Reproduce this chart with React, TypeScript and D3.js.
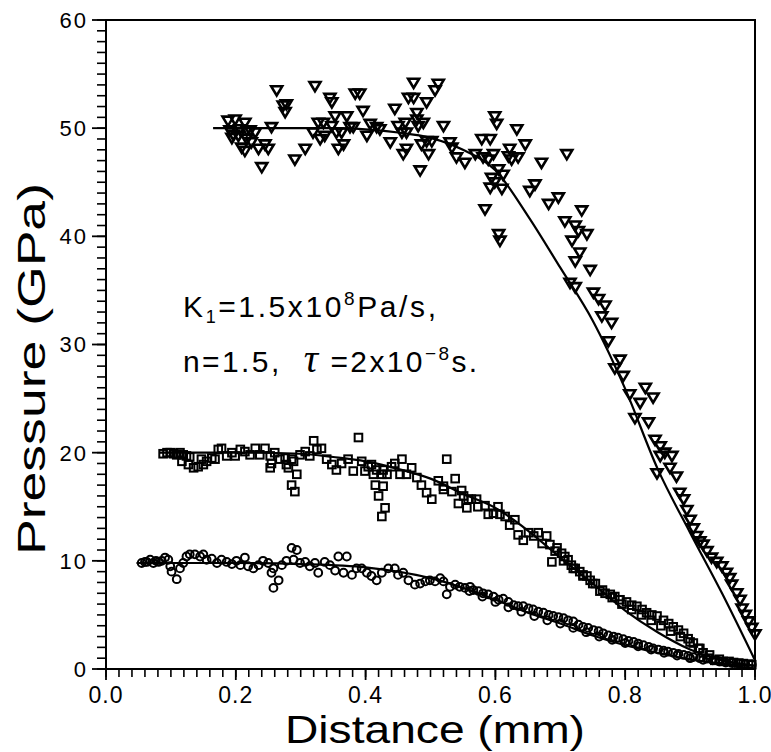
import React from "react";
import * as d3 from "d3";

// ---- data (Distance mm, Pressure GPa) ----
const triangles: [number, number][] = [
  [0.188,50.7],[0.199,50.8],[0.191,49.8],[0.196,49.4],[0.194,49.1],[0.204,49.3],[0.206,49.9],[0.214,50.5],[0.217,49.8],[0.222,49.8],
  [0.230,49.6],[0.217,49.0],[0.224,48.7],[0.209,48.2],[0.214,47.9],[0.235,48.1],[0.245,48.5],[0.250,48.1],[0.240,46.4],[0.255,50.1],
  [0.263,53.5],[0.273,52.1],[0.278,52.2],[0.276,51.5],[0.291,47.1],[0.307,48.1],[0.322,53.9],[0.319,49.6],[0.327,50.5],[0.335,50.5],
  [0.330,49.0],[0.337,49.3],[0.345,52.8],[0.348,52.4],[0.348,50.2],[0.353,51.1],[0.355,49.6],[0.363,49.6],[0.366,48.5],[0.358,48.1],
  [0.371,51.1],[0.376,50.1],[0.381,50.1],[0.384,53.2],[0.391,53.2],[0.396,51.6],[0.402,49.3],[0.407,50.4],[0.417,50.1],[0.422,49.9],
  [0.438,48.7],[0.445,51.8],[0.450,50.2],[0.456,49.6],[0.461,50.5],[0.463,49.6],[0.458,47.6],[0.463,48.1],[0.474,54.2],[0.466,52.8],
  [0.474,52.8],[0.479,51.4],[0.481,50.2],[0.479,50.8],[0.489,50.5],[0.494,52.4],[0.486,48.5],[0.494,48.8],[0.502,48.8],[0.507,53.5],
  [0.512,54.1],[0.497,47.6],[0.484,46.1],[0.520,50.2],[0.530,48.7],[0.533,48.2],
  [0.599,51.1],[0.602,50.4],[0.633,49.9],[0.579,49.0],[0.592,49.0],[0.646,48.5],[0.622,48.1],[0.620,47.4],[0.635,47.3],[0.625,47.1],
  [0.597,47.6],[0.569,47.6],[0.540,47.3],[0.553,46.8],[0.581,47.3],[0.589,47.1],[0.671,46.8],[0.710,47.6],[0.605,46.2],[0.612,45.7],
  [0.594,45.4],[0.599,45.0],[0.592,44.5],[0.610,44.4],[0.584,42.5],[0.661,44.8],[0.653,44.2],[0.682,43.0],[0.697,43.6],[0.733,42.4],
  [0.707,41.4],[0.723,41.0],[0.728,40.5],[0.741,40.2],[0.718,39.6],[0.730,38.5],[0.723,37.7],[0.746,36.9],[0.715,35.7],[0.723,35.3],
  [0.751,34.8],[0.759,34.2],[0.769,33.6],[0.605,40.2],[0.607,39.6],
  [0.764,32.6],[0.779,32.0],[0.774,30.3],[0.792,28.6],[0.784,27.8],[0.797,27.1],[0.807,25.4],[0.831,26.0],[0.843,25.1],[0.823,24.6],
  [0.815,23.2],[0.836,22.8],[0.846,21.2],[0.854,20.6],[0.861,20.0],[0.872,19.7],[0.854,19.7],[0.869,18.6],[0.879,17.8],[0.849,18.1],
  [0.884,16.3],[0.890,15.7],[0.895,14.7],[0.900,13.8],[0.905,13.0],
  [0.910,12.3],[0.915,11.8],[0.920,11.5],[0.926,10.9],[0.933,10.3],[0.941,9.9],[0.949,9.5],[0.956,8.9],[0.961,8.4],[0.964,7.8],
  [0.972,7.0],[0.977,6.4],[0.980,5.6],[0.985,5.0],[0.990,4.4],[0.995,3.8],[1.0,3.2],
];

const squares: [number, number][] = [
  [0.088,19.9],[0.094,20.0],[0.099,20.0],[0.104,19.9],[0.109,19.8],[0.114,20.0],[0.119,19.8],[0.124,19.7],[0.129,19.6],[0.117,19.2],
  [0.127,18.9],[0.135,18.6],[0.142,18.7],[0.150,18.9],[0.147,19.4],[0.155,19.2],[0.163,19.5],[0.168,19.4],[0.173,20.3],[0.178,20.4],
  [0.186,19.7],[0.194,20.0],[0.199,19.7],[0.207,20.3],[0.214,20.1],[0.222,19.8],[0.230,20.4],[0.237,19.8],[0.245,20.4],[0.253,19.7],
  [0.260,20.0],[0.255,19.0],[0.253,18.6],[0.268,19.4],[0.276,19.5],[0.278,18.9],[0.286,19.4],[0.281,18.6],[0.289,19.2],[0.294,18.0],
  [0.286,17.0],[0.291,16.4],[0.299,19.8],[0.307,20.1],[0.314,19.7],[0.320,21.1],[0.325,20.3],[0.332,20.4],[0.340,19.4],[0.348,18.9],
  [0.355,18.4],[0.363,19.0],[0.373,19.4],[0.381,18.3],[0.389,21.4],[0.394,19.2],[0.399,18.3],[0.404,18.7],[0.409,18.9],[0.412,18.0],
  [0.417,18.4],[0.425,18.0],[0.427,18.4],[0.433,18.0],[0.415,17.0],[0.427,16.9],[0.420,16.0],[0.430,14.9],[0.425,14.1],[0.440,18.7],
  [0.445,19.0],[0.456,19.4],[0.453,18.0],[0.463,18.0],[0.471,18.6],[0.479,17.7],[0.486,17.0],[0.494,16.3],[0.502,15.7],[0.512,17.4],
  [0.520,16.9],[0.525,19.4],
  [0.520,16.6],[0.538,17.6],[0.533,16.4],[0.548,16.5],[0.551,16.0],[0.558,15.7],[0.543,15.3],[0.556,14.9],[0.563,15.7],[0.571,15.7],
  [0.573,15.0],[0.584,15.1],[0.589,14.3],[0.597,14.4],[0.604,15.0],[0.607,14.3],[0.615,14.1],[0.622,13.3],[0.630,13.8],[0.635,12.4],
  [0.643,11.9],[0.651,12.6],[0.659,12.3],[0.666,12.6],[0.672,11.6],[0.679,12.3],[0.684,11.5],[0.687,9.9],[0.692,10.9],[0.695,11.2],
  [0.702,10.7],[0.707,10.4],[0.712,10.1],[0.717,9.6],[0.723,9.3],[0.730,9.0],[0.735,8.7],[0.741,8.6],
  [0.746,8.2],[0.754,7.9],[0.761,7.2],[0.769,7.0],[0.777,6.9],[0.784,6.7],[0.792,6.4],[0.802,6.2],[0.810,5.9],[0.818,5.8],
  [0.826,5.5],[0.833,5.2],[0.841,5.0],[0.849,4.9],[0.859,4.5],[0.867,4.2],[0.874,3.9],[0.882,3.6],[0.890,3.3],[0.897,2.8],
  [0.905,2.4],[0.913,1.9],[0.920,1.5],[0.928,1.0],[0.938,0.8],[0.951,0.7],[0.967,0.6],[0.982,0.5],[0.995,0.4],
  [0.705,10.0],[0.720,9.3],[0.735,8.6],[0.750,7.9],[0.765,7.3],[0.780,6.6],[0.795,6.0],[0.810,5.5],[0.825,5.0],[0.840,4.5],
  [0.855,4.0],[0.870,3.5],[0.885,3.0],[0.900,2.5],[0.915,1.9],[0.930,1.3],[0.945,0.9],[0.960,0.7],[0.975,0.55],[0.990,0.45],
];

const circles: [number, number][] = [
  [0.055,9.8],[0.060,9.9],[0.063,9.9],[0.068,10.1],[0.073,9.8],[0.077,10.0],[0.081,9.9],[0.086,10.0],[0.091,10.3],[0.096,10.1],
  [0.099,9.5],[0.101,9.0],[0.109,8.3],[0.114,9.3],[0.119,9.8],[0.124,10.4],[0.129,10.6],[0.137,10.6],[0.145,10.4],[0.150,10.6],
  [0.155,10.1],[0.163,10.2],[0.171,9.8],[0.178,10.1],[0.186,9.9],[0.194,9.7],[0.201,10.0],[0.207,9.6],[0.214,10.3],[0.219,9.5],
  [0.227,9.3],[0.235,9.6],[0.242,10.0],[0.250,9.8],[0.258,9.3],[0.255,8.9],[0.266,8.2],[0.258,7.5],[0.271,9.6],[0.278,10.0],
  [0.286,11.2],[0.294,11.0],[0.289,10.1],[0.299,9.8],[0.307,9.9],[0.314,9.5],[0.322,9.8],[0.327,8.9],[0.337,9.9],[0.345,9.6],
  [0.353,9.1],[0.358,10.4],[0.371,10.4],[0.366,8.9],[0.379,8.7],[0.386,9.3],[0.394,9.3],[0.402,8.9],[0.409,8.6],[0.417,8.2],
  [0.425,8.9],[0.435,9.3],[0.445,9.3],[0.450,8.7],
  [0.458,8.9],[0.466,8.2],[0.476,7.8],[0.484,7.9],[0.492,8.1],[0.499,8.2],[0.507,8.1],[0.515,8.4],[0.520,8.1],[0.525,6.9],
  [0.530,7.6],[0.538,7.8],[0.545,7.6],[0.553,7.5],[0.561,7.6],[0.566,7.3],[0.574,7.2],[0.581,7.0],[0.589,6.9],[0.597,6.7],
  [0.605,6.4],[0.612,6.5],[0.620,6.2],[0.628,5.9],[0.635,5.8],[0.643,5.8],[0.651,5.6],[0.658,5.5],[0.666,5.3],[0.674,5.2],
  [0.682,5.0],[0.689,4.9],[0.697,4.8],[0.705,4.7],[0.712,4.5],[0.720,4.4],[0.728,4.1],[0.735,3.9],[0.743,3.8],[0.751,3.6],
  [0.759,3.5],[0.766,3.3],[0.774,3.1],[0.782,3.0],[0.789,2.9],[0.797,2.75],[0.805,2.6],[0.813,2.5],[0.820,2.35],[0.828,2.2],
  [0.836,2.05],[0.843,1.9],[0.851,1.8],[0.859,1.7],[0.866,1.6],[0.874,1.5],[0.882,1.4],[0.890,1.3],[0.897,1.2],[0.905,1.1],
  [0.915,1.0],[0.926,0.95],
  [0.560,7.2],[0.580,6.7],[0.600,6.2],[0.620,5.7],[0.640,5.3],[0.660,4.9],[0.680,4.5],[0.700,4.2],[0.720,3.8],[0.740,3.4],
  [0.760,3.0],[0.780,2.7],[0.800,2.4],[0.820,2.1],[0.840,1.8],[0.860,1.5],[0.880,1.25],[0.900,1.0],[0.920,0.85],
  [0.935,0.8],[0.945,0.7],[0.955,0.6],[0.965,0.55],[0.975,0.5],[0.985,0.45],[0.995,0.4],
];

const triFitX = [0.165, 0.25, 0.35, 0.42, 0.45, 0.5, 0.55, 0.6, 0.65, 0.7, 0.75, 0.8, 0.85, 0.9, 0.95, 1.0];
const triFitY = [50, 50, 50, 49.8, 49.6, 49.1, 48.0, 46.1, 41.9, 37.1, 32.2, 25.9, 18.5, 12.6, 6.9, 0.8];
const sqFitX = [0.083, 0.2, 0.3, 0.35, 0.4, 0.45, 0.5, 0.55, 0.6, 0.65, 0.7, 0.75, 0.8, 0.85, 0.9, 0.95, 1.0];
const sqFitY = [20, 20, 19.9, 19.6, 19.2, 18.5, 17.6, 16.2, 14.9, 12.8, 10.3, 7.9, 5.4, 3.4, 1.8, 0.8, 0.3];
const circFitX = [0.047, 0.2, 0.3, 0.4, 0.45, 0.5, 0.55, 0.6, 0.65, 0.7, 0.75, 0.8, 0.85, 0.9, 0.95, 1.0];
const circFitY = [9.8, 9.8, 9.7, 9.4, 9.0, 8.4, 7.5, 6.4, 5.2, 4.2, 3.1, 2.2, 1.5, 0.9, 0.5, 0.3];

const xTickLabels = ["0.0", "0.2", "0.4", "0.6", "0.8", "1.0"];
const yTickLabels = ["0", "10", "20", "30", "40", "50", "60"];

const FONT = "'Liberation Sans', Arial, sans-serif";

export default function App() {
  const x = d3.scaleLinear().domain([0, 1]).range([106, 755]);
  const y = d3.scaleLinear().domain([0, 60]).range([669, 20]);

  const line = d3
    .line<[number, number]>()
    .x((d) => x(d[0]))
    .y((d) => y(d[1]))
    .curve(d3.curveMonotoneX);

  const fits = [
    d3.zip(triFitX, triFitY) as [number, number][],
    d3.zip(sqFitX, sqFitY) as [number, number][],
    d3.zip(circFitX, circFitY) as [number, number][],
  ];

  const xMinor = x.ticks(50);
  const xMajor = x.ticks(5);
  const yMinor = y.ticks(60);
  const yMajor = y.ticks(6);

  const tri = "M-5.5,-4L5.5,-4L0,5.2Z";

  return (
    <svg
      width={771}
      height={752}
      style={{ position: "absolute", left: 0, top: 0, background: "#fff" }}
    >
      <rect x={0} y={0} width={771} height={752} fill="#fff" />
      {/* fit curves */}
      {fits.map((f, i) => (
        <path key={i} d={line(f) || ""} fill="none" stroke="#000" strokeWidth={2.2} />
      ))}
      {/* markers */}
      {circles.map((d, i) => (
        <circle key={"c" + i} cx={x(d[0])} cy={y(d[1])} r={3.9} fill="none" stroke="#000" strokeWidth={2} />
      ))}
      {squares.map((d, i) => (
        <rect key={"s" + i} x={x(d[0]) - 3.8} y={y(d[1]) - 3.8} width={7.6} height={7.6} fill="none" stroke="#000" strokeWidth={2} />
      ))}
      {triangles.map((d, i) => (
        <path key={"t" + i} d={tri} transform={`translate(${x(d[0])},${y(d[1])})`} fill="none" stroke="#000" strokeWidth={2.6} strokeLinejoin="miter" />
      ))}

      {/* frame */}
      <rect x={106} y={20} width={649} height={649} fill="none" stroke="#000" strokeWidth={2} />

      {/* x ticks */}
      {xMinor.map((t, i) => (
        <line key={"xm" + i} x1={x(t)} x2={x(t)} y1={669} y2={677} stroke="#000" strokeWidth={1.6} />
      ))}
      {xMajor.map((t, i) => (
        <line key={"xM" + i} x1={x(t)} x2={x(t)} y1={669} y2={680} stroke="#000" strokeWidth={1.8} />
      ))}
      {xMajor.map((t, i) => (
        <text key={"xl" + i} x={x(t)} y={703} textAnchor="middle" fontFamily={FONT} fontSize={23} letterSpacing={1} fill="#000">
          {xTickLabels[i]}
        </text>
      ))}

      {/* y ticks */}
      {yMinor.map((t, i) => (
        <line key={"ym" + i} x1={97} x2={106} y1={y(t)} y2={y(t)} stroke="#000" strokeWidth={1.6} />
      ))}
      {yMajor.map((t, i) => (
        <line key={"yM" + i} x1={92} x2={106} y1={y(t)} y2={y(t)} stroke="#000" strokeWidth={1.8} />
      ))}
      {yMajor.map((t, i) => (
        <text key={"yl" + i} x={88} y={y(t)} dy="0.36em" textAnchor="end" fontFamily={FONT} fontSize={22} letterSpacing={2} fill="#000">
          {yTickLabels[i]}
        </text>
      ))}

      {/* axis titles */}
      <text x={435} y={743} textAnchor="middle" fontFamily={FONT} fontSize={38} textLength={300} lengthAdjust="spacingAndGlyphs" fill="#000">
        Distance (mm)
      </text>
      <text transform="translate(45,369) rotate(-90)" textAnchor="middle" fontFamily={FONT} fontSize={38} textLength={372} lengthAdjust="spacingAndGlyphs" fill="#000">
        Pressure (GPa)
      </text>

      {/* annotations */}
      <text x={183} y={317} fontFamily={FONT} fontSize={30} letterSpacing={2.6} fill="#000">
        K<tspan dy={6} fontSize={18}>1</tspan>
        <tspan dy={-6}>=1.5x10</tspan>
        <tspan dy={-12} fontSize={19}>8</tspan>
        <tspan dy={12}>Pa/s,</tspan>
      </text>
      <text x={183} y={372} fontFamily={FONT} fontSize={30} letterSpacing={2.4} fill="#000">
        n=1.5,
        <tspan dx={22} fontSize={40} fontStyle="italic" fontFamily="'Liberation Serif', serif">τ</tspan>
        <tspan dx={10}>=2x10</tspan>
        <tspan dy={-12} fontSize={19}>−8</tspan>
        <tspan dy={12}>s.</tspan>
      </text>
    </svg>
  );
}
